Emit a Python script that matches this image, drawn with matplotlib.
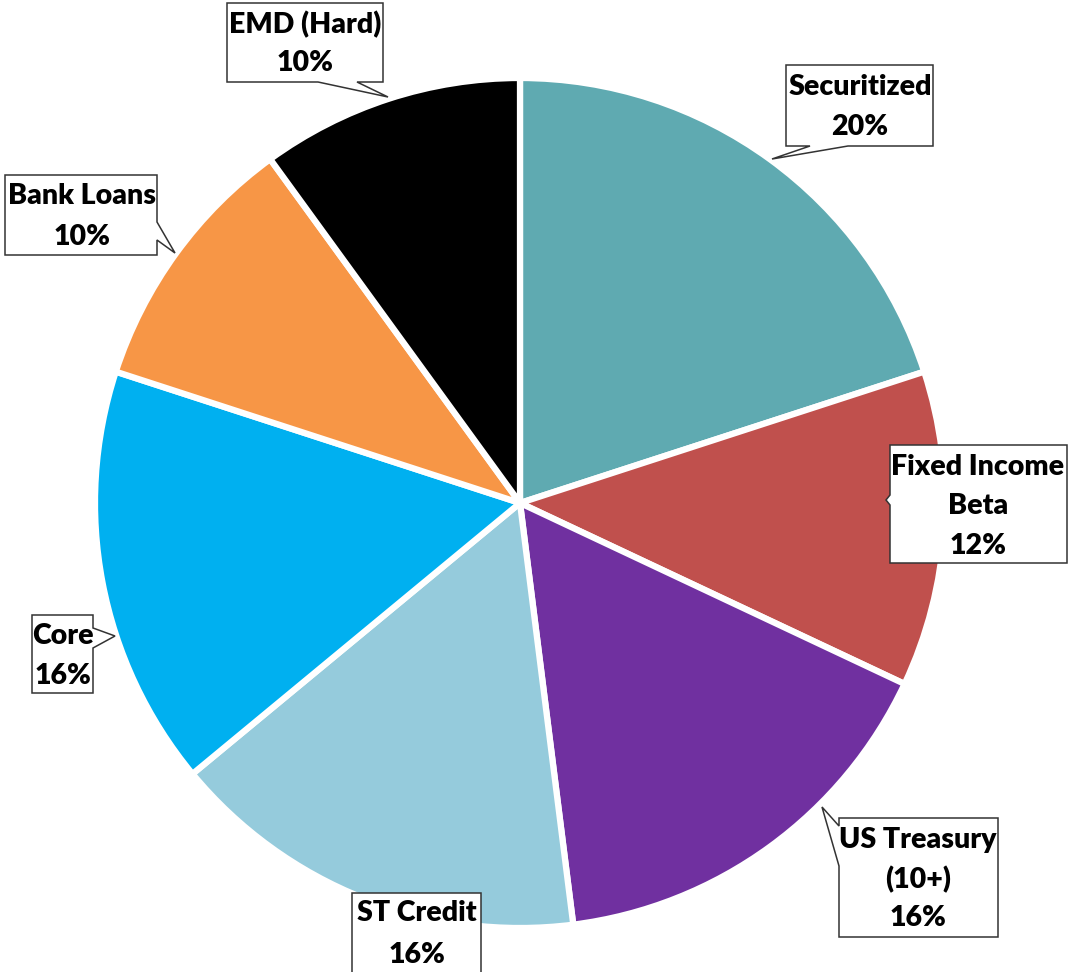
import matplotlib
matplotlib.use("Agg")
import matplotlib.pyplot as plt
from matplotlib.patches import Polygon

# Allocation data
categories = ["Securitized", "Fixed Income\nBeta", "US Treasury\n(10+)", "ST Credit",
              "Core", "Bank Loans", "EMD (Hard)"]
weights = [20, 12, 16, 16, 16, 10, 10]
colors = ["#5FAAB1", "#C0504D", "#7030A0", "#95CBDC", "#00B0F0", "#F79646", "#000000"]

W, H = 1075, 972
fig = plt.figure(figsize=(W / 100, H / 100), dpi=100)
ax = fig.add_axes([0, 0, 1, 1])


def Y(y):
    """Convert a top-down pixel row to the axes' bottom-up coordinate."""
    return H - y


ax.pie(weights, colors=colors, startangle=90, counterclock=False,
       center=(520, Y(503)), radius=425, frame=True,
       wedgeprops=dict(edgecolor="white", linewidth=4.5))
ax.set_xlim(0, W)
ax.set_ylim(0, H)
ax.set_aspect("equal")
ax.axis("off")

# Callout boxes: (x0, y0, x1, y1), tail side, tail base (a, b), tail tip
callouts = [
    ((786, 65, 933, 146), "bottom", (810, 848), (772, 159)),
    ((890, 445, 1067, 563), "left", (495, 505), (886, 500)),
    ((839, 818, 998, 937), "left", (826, 866), (822, 807)),
    ((352, 893, 481, 985), None, None, None),
    ((32, 615, 93, 693), "right", (628, 648), (115, 636)),
    ((5, 175, 157, 255), "right", (222, 240), (175, 253)),
    ((227, 3, 383, 82), "bottom", (318, 357), (388, 97)),
]
label_rows = [
    (860, [87, 127]),
    (978, [467, 506, 546]),
    (918, [840, 880, 918]),
    (417, [913, 955]),
    (63, [636, 676]),
    (82, [196, 237]),
    (305, [25, 63]),
]


def callout_outline(box, side, base, tip):
    x0, y0, x1, y1 = box
    pts = [(x0, y0), (x1, y0)]
    if side == "right":
        pts += [(x1, base[0]), tip, (x1, base[1])]
    pts += [(x1, y1)]
    if side == "bottom":
        pts += [(base[1], y1), tip, (base[0], y1)]
    pts += [(x0, y1)]
    if side == "left":
        pts += [(x0, base[1]), tip, (x0, base[0])]
    return [(x, Y(y)) for x, y in pts]


font = dict(family=["Lato", "DejaVu Sans"],
            fontweight="heavy", fontsize=20.5, color="black")

for cat, w, (box, side, base, tip), (cx, rows) in zip(categories, weights, callouts, label_rows):
    ax.add_patch(Polygon(callout_outline(box, side, base, tip), closed=True,
                         facecolor="white", edgecolor="#333333", linewidth=1.1,
                         zorder=5, clip_on=False))
    lines = cat.split("\n") + [f"{w}%"]
    for text, ry in zip(lines, rows):
        ax.text(cx, Y(ry), text, ha="center", va="center", zorder=6, **font)

fig.savefig("out.png", dpi=100)
